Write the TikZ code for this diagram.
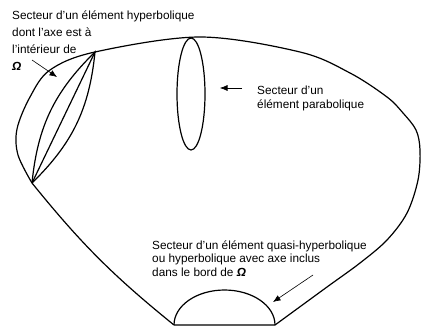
\documentclass[tikz,border=0pt]{standalone}
\usepackage{fontspec}
\setmainfont{Liberation Sans}
\usetikzlibrary{arrows.meta}
\begin{document}
\begin{tikzpicture}[x=10pt,y=10pt,
	bord/.style={line width=1.2pt},
	fleche/.style={line width=0.6pt,-{Latex[length=7.5pt,width=6pt]}},
	legende/.style={anchor=base west,inner sep=0pt,align=left,font=\fontsize{11.8}{17}\selectfont}]
	\useasboundingbox (0,0) rectangle (42.2,33.3);
	% Bord de Omega
	\draw[bord] (17.4,0.8) -- (27.5,0.8) -- plot[smooth,tension=0.55] coordinates {
		(27.5,0.8) (32.7,4.6) (36.0,7.0) (38.7,9.3) (40.7,12.0) (41.8,15.3) (42.0,18.3)
		(41.6,20.3) (40.3,22.0) (38.7,23.6) (35.0,26.0) (30.0,28.1) (20.0,29.6) (9.5,28.1)
		(5.0,26.3) (3.0,23.6) (1.7,20.4) (1.8,17.8) (3.2,15.0)} to[bend right=6] (17.4,0.8);
	% Secteur hyperbolique
	\coordinate (lensbas) at (3.2,15.0);
	\coordinate (lenshaut) at (9.5,28.1);
	\draw[bord] (lensbas) to[bend left=20] (lenshaut) to[bend left=20] (lensbas);
	\draw[bord] (lensbas) -- (lenshaut);
	% Secteur parabolique
	\draw[bord] (19.1,23.9) ellipse[x radius=1.4,y radius=5.6];
	% Secteur quasi-hyperbolique
	\draw[bord] (17.4,0.8) arc[start angle=180,end angle=0,x radius=5.05,y radius=3.5];
	% Legendes
	\node[legende] (hyp) at (1.2,26.3) {Secteur d'un élément hyperbolique\\dont l'axe est à\\l'intérieur de\\\textbf{\textit{Ω}}};
	\node[legende,font=\fontsize{11.8}{14}\selectfont] (para) at (25.7,22.5) {Secteur d'un\\élément parabolique};
	\node[legende,font=\fontsize{11.8}{13.5}\selectfont] (quasi) at (15.2,5.7) {Secteur d'un élément quasi-hyperbolique\\ou hyperbolique avec axe inclus\\dans le bord de \textbf{\textit{Ω}}};
	% Fleches
	\coordinate (hypdep) at (3.2,27.3);
	\coordinate (hypfin) at (5.7,25.6);
	\coordinate (paradep) at (24.2,24.5);
	\coordinate (parafin) at (22.0,24.5);
	\coordinate (quasidep) at (31.3,5.8);
	\coordinate (quasifin) at (27.3,3.1);
	\draw[fleche] (hypdep) -- (hypfin);
	\draw[fleche] (paradep) -- (parafin);
	\draw[fleche] (quasidep) -- (quasifin);
\end{tikzpicture}
\end{document}
